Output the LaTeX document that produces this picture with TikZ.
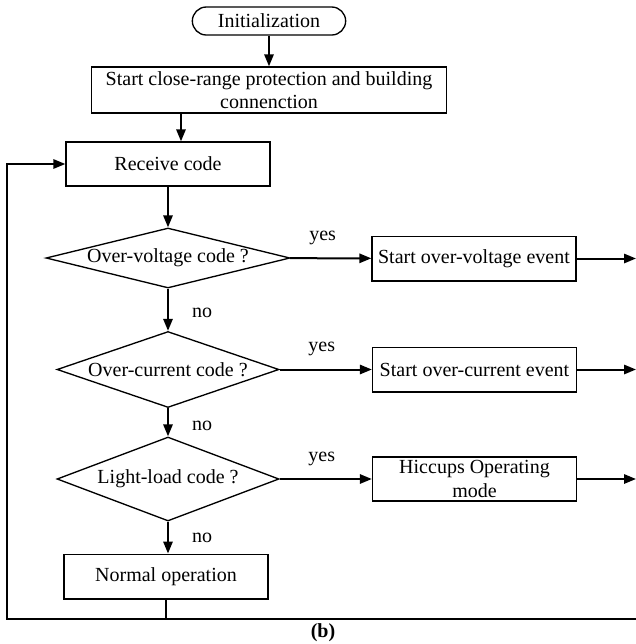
\documentclass[tikz,border=0pt]{standalone}
\usepackage{fontspec}
\setmainfont{Liberation Serif}
\usetikzlibrary{arrows.meta, calc}
\usetikzlibrary{shapes.geometric}

\tikzset{
  box/.style={draw, line width=1pt, inner sep=0pt, align=center,
    minimum width=153pt, minimum height=33.5pt},
  decision/.style={draw, diamond, line width=1pt, inner sep=0pt, aspect=3},
  flow/.style={->, line width=1.5pt},
}

\begin{document}
\begin{tikzpicture}[x=0.75pt,y=-0.75pt,>={Triangle[length=9pt,width=7pt]},
  font=\fontsize{15}{17.5}\selectfont]
\useasboundingbox (0,0) rectangle (636,644);

% --- start of the sequence
\node[draw, line width=1pt, rounded corners=10.5pt, inner sep=0pt,
  minimum width=115pt, minimum height=21pt] (init) at (269,21) {Initialization};
\node[box, minimum width=266pt, minimum height=34.5pt] (start) at (269,90)
  {Start close-range protection and building\\connenction};
\node[box, minimum height=33pt] (recv) at (168,164) {Receive code};

% --- decisions
\node[decision, aspect=4, minimum width=183pt, minimum height=45pt] (dvolt) at (168,258) {Over-voltage code ?};
\node[decision, minimum width=166.5pt, minimum height=57pt] (dcurr) at (168,369.5) {Over-current code ?};
\node[decision, minimum width=166.5pt, minimum height=63pt] (dload) at (168,479) {Light-load code ?};

% --- events
\node[box] (evolt) at (474,258.5) {Start over-voltage event};
\node[box] (ecurr) at (474.5,369.5) {Start over-current event};
\node[box, minimum height=33pt] (hicc) at (474.5,479) {Hiccups Operating\\mode};
\node[box] (norm) at (166,576.5) {Normal operation};

% --- free ends
\coordinate (ovout) at (636,258.5);
\coordinate (ocout) at (636,369.5);
\coordinate (hiout) at (636,479);
\coordinate (lb) at (7,619);
\coordinate (rb) at (636,619);

% --- main line
\draw[flow] (init) -- (start);
\draw[flow] ([xshift=9.75pt]recv.north |- start.south) -- ([xshift=9.75pt]recv.north);
\draw[flow] (recv) -- (dvolt);
\draw[flow] (dvolt) -- node[right=14pt, yshift=-2pt] {no} (dcurr);
\draw[flow] (dcurr) -- node[right=14pt, yshift=-3pt] {no} (dload);
\draw[flow] (dload) -- node[right=14pt, yshift=0pt] {no} (dload |- norm.north);

% --- yes branches
\draw[flow] (dvolt) -- node[above=6pt, xshift=-6pt] {yes} (evolt);
\draw[flow] (dcurr) -- node[above=6pt, xshift=-3pt] {yes} (ecurr);
\draw[flow] (dload) -- node[above=6pt, xshift=-3pt] {yes} (hicc);
\draw[flow] (evolt) -- (ovout);
\draw[flow] (ecurr) -- (ocout);
\draw[flow] (hicc) -- (hiout);

% --- loop back
\draw[line width=1.1pt] (norm.south) -- (norm.south |- lb);
\draw[flow] (rb) -- (lb) |- (recv.west);

\node[font=\fontsize{15}{17.5}\selectfont\bfseries] (cap) at (323,633) {(b)};
\end{tikzpicture}
\end{document}
